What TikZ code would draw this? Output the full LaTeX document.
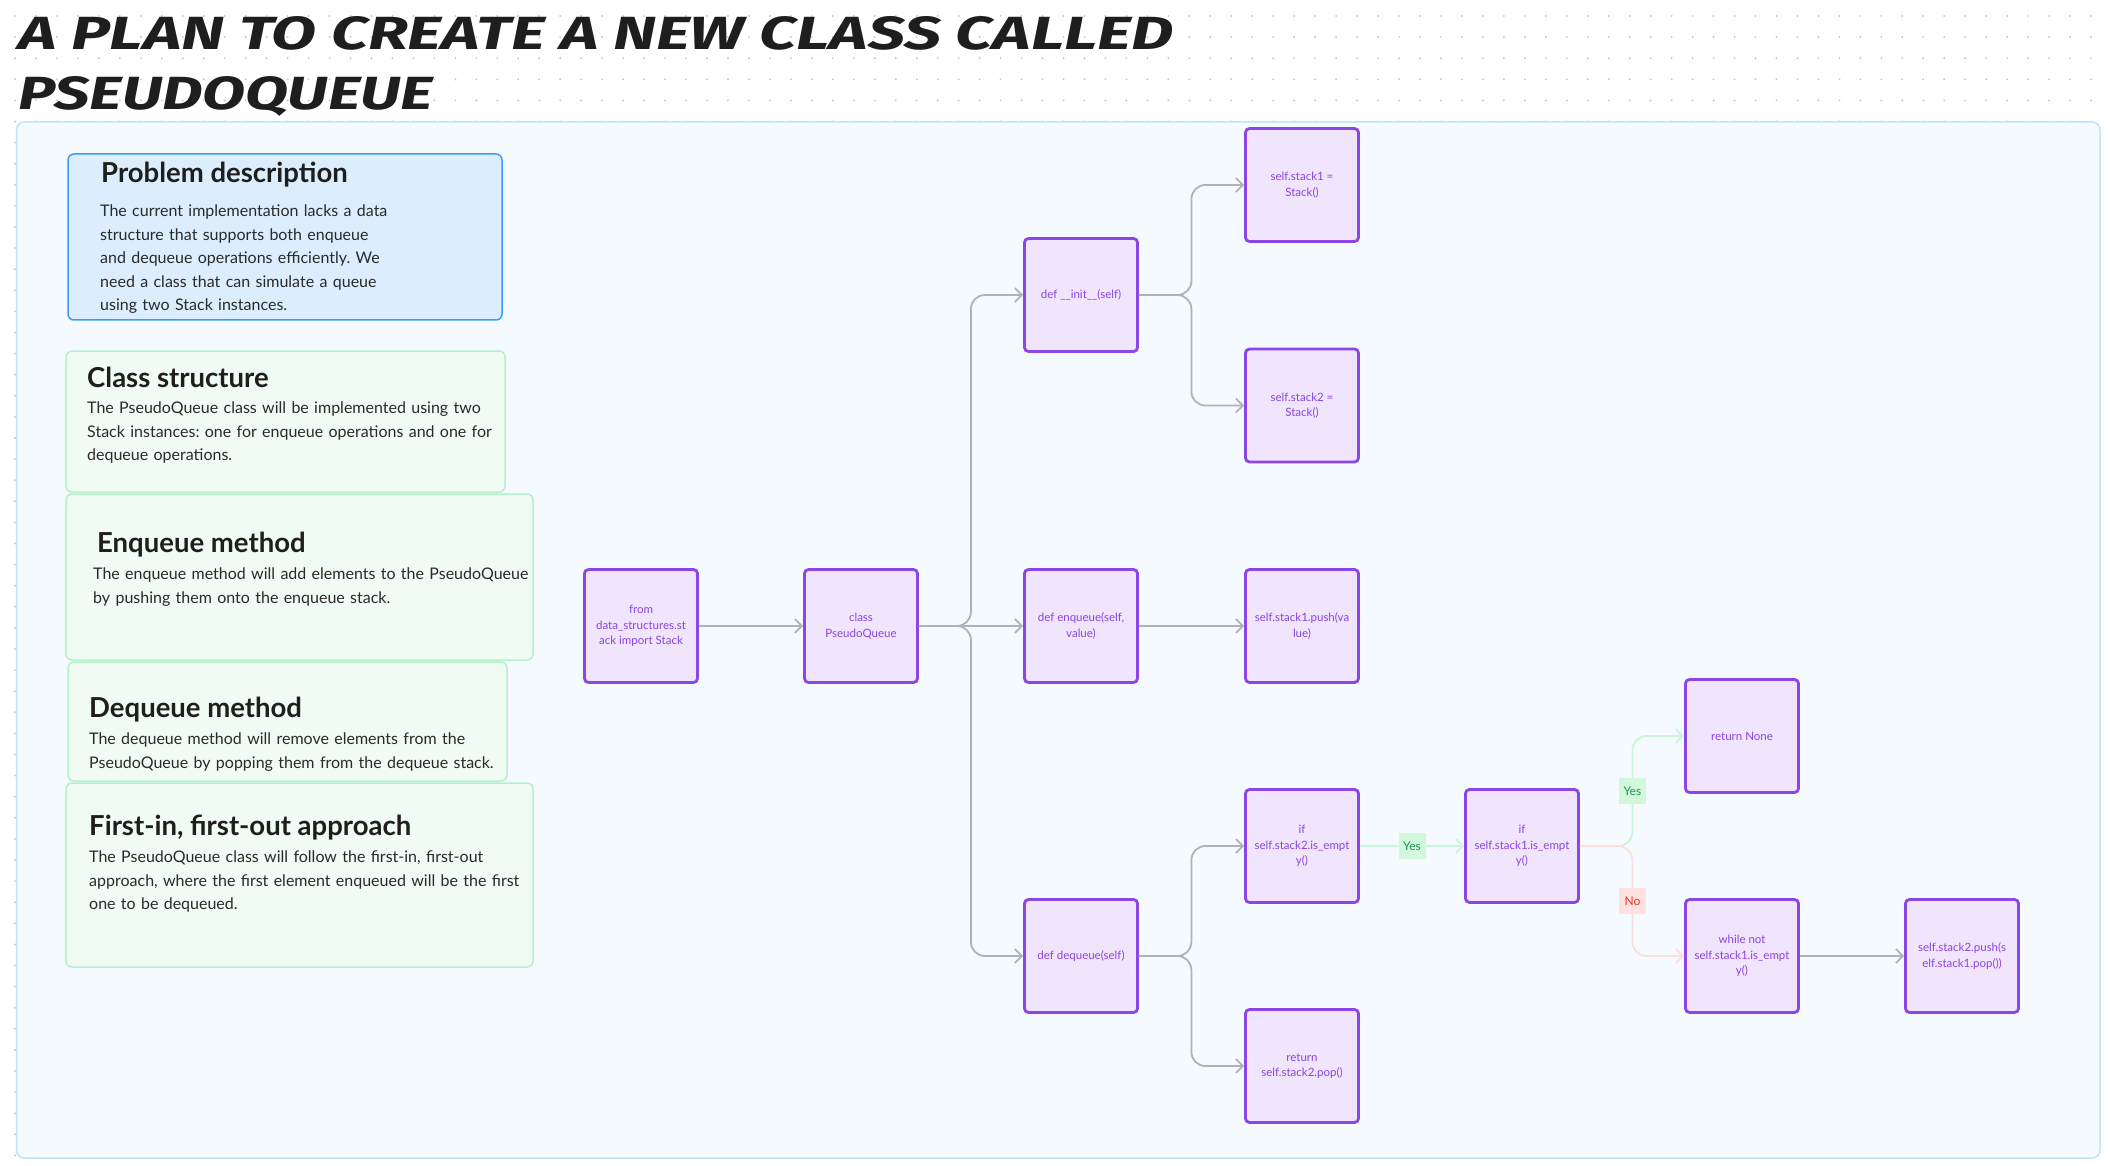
\documentclass[tikz,border=0pt]{standalone}
\usepackage{fontspec}
\usepackage{graphicx}
\setmainfont{Lato}
\newfontfamily\titlefont{Fira Sans}
\usetikzlibrary{arrows.meta}
\definecolor{contfill}{HTML}{F5FAFE}
\definecolor{contborder}{HTML}{BFE3FA}
\definecolor{dotcol}{HTML}{C9C9C9}
\definecolor{probfill}{HTML}{DCEEFD}
\definecolor{probborder}{HTML}{3C9DF5}
\definecolor{grfill}{HTML}{F0FBF4}
\definecolor{grborder}{HTML}{B6EFCA}
\definecolor{headcol}{HTML}{1E1E1E}
\definecolor{bodycol}{HTML}{2A2A2A}
\definecolor{pfill}{HTML}{F1E4FD}
\definecolor{pborder}{HTML}{8B46E6}
\definecolor{ptext}{HTML}{8A45E2}
\definecolor{edgegray}{HTML}{B2B2B2}
\definecolor{edgegreen}{HTML}{CBF5D6}
\definecolor{edgered}{HTML}{FFDDDB}
\definecolor{labgreenbg}{HTML}{D3F7DD}
\definecolor{labgreentx}{HTML}{1E9A4C}
\definecolor{labredbg}{HTML}{FFE2DF}
\definecolor{labredtx}{HTML}{E5372C}
\frenchspacing
\begin{document}
\begin{tikzpicture}[x=1pt,y=-1pt,
  pbox/.style={draw=pborder, fill=pfill, line width=2.8pt, rounded corners=4pt,
    minimum width=113pt, minimum height=113pt, inner sep=2pt, align=center,
    text=ptext, font=\fontsize{11.5}{15.5}\selectfont},
  flow/.style={line width=1.8pt, rounded corners=14pt,
    -{Straight Barb[length=7pt,width=14pt]}},
  gline/.style={flow, draw=edgegray},
  yline/.style={flow, draw=edgegreen},
  nline/.style={flow, draw=edgered},
  ylab/.style={sharp corners, fill=labgreenbg, text=labgreentx, font=\fontsize{12}{14}\selectfont,
    minimum width=27pt, minimum height=26pt, inner sep=0pt},
  nlab/.style={sharp corners, fill=labredbg, text=labredtx, font=\fontsize{12}{14}\selectfont,
    minimum width=27pt, minimum height=26pt, inner sep=0pt},
  hd/.style={anchor=base west, inner sep=0pt, text=headcol,
    font=\fontsize{27.5}{30}\selectfont\bfseries},
  bd/.style={anchor=base west, inner sep=0pt, text=bodycol, text width=470pt,
    align=left, font=\fontsize{16}{23.6}\selectfont},
  probbox/.style={fill=probfill, draw=probborder, line width=1.5pt, rounded corners=6pt},
  grbox/.style={fill=grfill, draw=grborder, line width=1.5pt, rounded corners=6pt}
]
\useasboundingbox (0,0) rectangle (2110,1166);
\fill[white] (0,0) rectangle (2110,1166);
% dot grid
\foreach \i in {0,...,100} {
  \foreach \j in {0,...,5} {
    \fill[dotcol] (15+20.97*\i,16+21.1*\j) circle (1.1pt);
  }
}
\foreach \j in {6,...,54} {
  \fill[dotcol] (15,16+21.1*\j) circle (1.1pt);
}
% title
\node[anchor=base west, inner sep=0pt, text=headcol] (title1) at (18,50)
  {\resizebox{1155pt}{33pt}{\titlefont\bfseries\itshape A PLAN TO CREATE A NEW CLASS CALLED}};
\node[anchor=base west, inner sep=0pt, text=headcol] (title2) at (18,110)
  {\resizebox{415pt}{33pt}{\titlefont\bfseries\itshape PSEUDOQUEUE}};
% container
\draw[fill=contfill, draw=contborder, line width=1.5pt, rounded corners=8pt] (16.5,122) rectangle (2100,1158);

% left boxes
\draw[probbox] (68,154) rectangle (502,320);
\node[hd] (h1) at (101,183) {Problem description};
\node[bd] (b1) at (100,216.5) {The current implementation lacks a data\\structure that supports both enqueue\\and dequeue operations efficiently. We\\need a class that can simulate a queue\\using two Stack instances.};

\draw[grbox] (66,351) rectangle (505,492);
\node[hd] (h2) at (87,387.5) {Class structure};
\node[bd] (b2) at (87,413.5) {The PseudoQueue class will be implemented using two\\Stack instances: one for enqueue operations and one for\\dequeue operations.};

\draw[grbox] (66,494) rectangle (533,660);
\node[hd] (h3) at (97,552) {Enqueue method};
\node[bd] (b3) at (93,579.5) {The enqueue method will add elements to the PseudoQueue\\by pushing them onto the enqueue stack.};

\draw[grbox] (68,662) rectangle (507,781);
\node[hd] (h4) at (89,717.5) {Dequeue method};
\node[bd] (b4) at (89,744.5) {The dequeue method will remove elements from the\\PseudoQueue by popping them from the dequeue stack.};

\draw[grbox] (66,783) rectangle (533,967);
\node[hd] (h5) at (89,835.5) {First-in, first-out approach};
\node[bd] (b5) at (89,862.5) {The PseudoQueue class will follow the first-in, first-out\\approach, where the first element enqueued will be the first\\one to be dequeued.};

% flow nodes
\node[pbox] (from) at (641,626) {from\\data\_structures.st\\ack import Stack};
\node[pbox] (cls) at (861,626) {class\\PseudoQueue};
\node[pbox] (init) at (1081,295) {def \_\_init\_\_(self)};
\node[pbox] (enq) at (1081,626) {def enqueue(self,\\value)};
\node[pbox] (deq) at (1081,956) {def dequeue(self)};
\node[pbox] (s1) at (1302,185) {self.stack1 =\\Stack()};
\node[pbox] (s2) at (1302,405.5) {self.stack2 =\\Stack()};
\node[pbox] (push1) at (1302,626) {self.stack1.push(va\\lue)};
\node[pbox] (if2) at (1302,846) {if\\self.stack2.is\_empt\\y()};
\node[pbox] (retpop) at (1302,1066) {return\\self.stack2.pop()};
\node[pbox] (if1) at (1522,846) {if\\self.stack1.is\_empt\\y()};
\node[pbox] (retnone) at (1742,736) {return None};
\node[pbox] (while) at (1742,956) {while not\\self.stack1.is\_empt\\y()};
\node[pbox] (push2) at (1962,956) {self.stack2.push(s\\elf.stack1.pop())};

% connectors
\draw[gline] (from) -- (cls);
\draw[gline] (cls.east) -- ++(52,0) |- (init.west);
\draw[gline] (cls) -- (enq);
\draw[gline] (cls.east) -- ++(52,0) |- (deq.west);
\draw[gline] (init.east) -- ++(52.5,0) |- (s1.west);
\draw[gline] (init.east) -- ++(52.5,0) |- (s2.west);
\draw[gline] (enq) -- (push1);
\draw[gline] (deq.east) -- ++(52.5,0) |- (if2.west);
\draw[gline] (deq.east) -- ++(52.5,0) |- (retpop.west);
\draw[yline] (if2) -- node[ylab] (lyes1) {Yes} (if1);
\draw[yline] (if1.east) -- ++(52.5,0) |- node[ylab, pos=0.25] (lyes2) {Yes} (retnone.west);
\draw[nline] (if1.east) -- ++(52.5,0) |- node[nlab, pos=0.25] (lno) {No} (while.west);
\draw[gline] (while) -- (push2);
\end{tikzpicture}
\end{document}
